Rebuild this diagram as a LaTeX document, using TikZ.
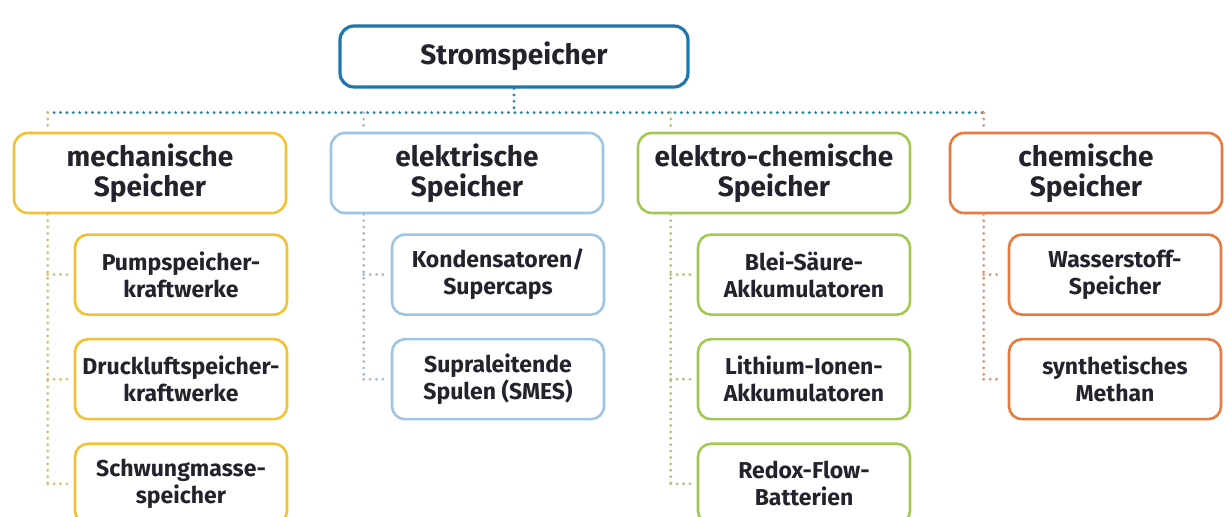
\documentclass[tikz,border=0pt]{standalone}
\usepackage{fontspec}
\setmainfont{Fira Sans}
\usetikzlibrary{positioning}

\definecolor{stromcol}{RGB}{30,118,172}
\definecolor{buscol}{RGB}{40,132,170}
\definecolor{mechcol}{RGB}{242,194,52}
\definecolor{elekcol}{RGB}{160,196,226}
\definecolor{eccol}{RGB}{162,202,82}
\definecolor{chemcol}{RGB}{232,122,62}
\definecolor{mechdot}{RGB}{214,190,122}
\definecolor{elekdot}{RGB}{172,186,202}
\definecolor{ecdot}{RGB}{182,192,120}
\definecolor{chemdot}{RGB}{218,150,120}
\definecolor{txt}{RGB}{35,35,45}

\begin{document}
\begin{tikzpicture}[x=0.5pt, y=-0.5pt]
    \useasboundingbox (0,0) rectangle (1226,517);
    \begin{scope}[
        topnode/.style={rectangle, rounded corners=7pt, draw=stromcol, line width=1.6pt, minimum width=174pt, minimum height=30.5pt, text=txt, font=\fontsize{14}{15}\selectfont\bfseries},
        mainnode/.style={rectangle, rounded corners=7pt, line width=1.3pt, minimum width=136pt, minimum height=40pt, inner xsep=2pt, align=center, text=txt, font=\fontsize{14}{15}\selectfont\bfseries},
        subnode/.style={rectangle, rounded corners=6.5pt, line width=1.3pt, minimum width=106pt, minimum height=40pt, inner xsep=1pt, align=center, text=txt, font=\fontsize{11.5}{13.5}\selectfont\bfseries},
        busline/.style={line width=1.6pt, line cap=round, dash pattern=on 0pt off 3.2pt},
        stub/.style={busline, shorten >=2.5pt}]
    \node [topnode] (strom) at (514,56.5) {Stromspeicher};
    % main branches
    \node [mainnode, draw=mechcol] (mech) at (150,173) {mechanische\\Speicher};
    \node [mainnode, draw=elekcol, right=21.2pt of mech] (elek) {elektrische\\Speicher};
    \node [mainnode, draw=eccol, right=16.2pt of elek] (echem) {elektro-chemische\\Speicher};
    \node [mainnode, draw=chemcol, right=18.7pt of echem] (chem) {chemische\\Speicher};
    % mechanische Speicher
    \node [subnode, draw=mechcol, below right=9.5pt and 30.5pt of mech.south west] (pump) {Pumpspeicher-\\kraftwerke};
    \node [subnode, draw=mechcol, below=11pt of pump] (druck) {Druckluftspeicher-\\kraftwerke};
    \node [subnode, draw=mechcol, below=11pt of druck] (schwung) {Schwungmasse-\\speicher};
    % elektrische Speicher
    \node [subnode, draw=elekcol, below right=9.5pt and 30.5pt of elek.south west] (kond) {Kondensatoren/\\Supercaps};
    \node [subnode, draw=elekcol, below=11pt of kond] (smes) {Supraleitende\\Spulen (SMES)};
    % elektro-chemische Speicher
    \node [subnode, draw=eccol, below right=9.5pt and 30pt of echem.south west] (blei) {Blei-Säure-\\Akkumulatoren};
    \node [subnode, draw=eccol, below=11pt of blei] (lith) {Lithium-Ionen-\\Akkumulatoren};
    \node [subnode, draw=eccol, below=11pt of lith] (redox) {Redox-Flow-\\Batterien};
    % chemische Speicher
    \node [subnode, draw=chemcol, below right=9.5pt and 29.5pt of chem.south west] (wasser) {Wasserstoff-\\Speicher};
    \node [subnode, draw=chemcol, below=11pt of wasser] (methan) {synthetisches\\Methan};

    \coordinate (hub) at ([yshift=-12pt]strom.south);
    \coordinate (mechx) at ([xshift=17.5pt]mech.north west);
    \coordinate (elekx) at ([xshift=17pt]elek.north west);
    \coordinate (echemx) at ([xshift=17pt]echem.north west);
    \coordinate (chemx) at ([xshift=17.5pt]chem.north west);

    % top bus
    \draw [busline, draw=buscol] (strom.south) -- (hub);
    \draw [busline, draw=buscol] (mechx |- hub) -- (chemx |- hub);
    \draw [busline, draw=mechdot] (mechx |- hub) -- (mechx);
    \draw [busline, draw=elekdot] (elekx |- hub) -- (elekx);
    \draw [busline, draw=ecdot] (echemx |- hub) -- (echemx);
    \draw [busline, draw=chemdot] (chemx |- hub) -- (chemx);

    % sub buses
    \draw [busline, draw=mechdot] (mechx |- mech.south) -- (mechx |- schwung.west);
    \draw [stub, draw=mechdot] (mechx |- pump.west) -- (pump.west);
    \draw [stub, draw=mechdot] (mechx |- druck.west) -- (druck.west);
    \draw [stub, draw=mechdot] (mechx |- schwung.west) -- (schwung.west);
    \draw [busline, draw=elekdot] (elekx |- elek.south) -- (elekx |- smes.west);
    \draw [stub, draw=elekdot] (elekx |- kond.west) -- (kond.west);
    \draw [stub, draw=elekdot] (elekx |- smes.west) -- (smes.west);
    \draw [busline, draw=ecdot] (echemx |- echem.south) -- (echemx |- redox.west);
    \draw [stub, draw=ecdot] (echemx |- blei.west) -- (blei.west);
    \draw [stub, draw=ecdot] (echemx |- lith.west) -- (lith.west);
    \draw [stub, draw=ecdot] (echemx |- redox.west) -- (redox.west);
    \draw [busline, draw=chemdot] (chemx |- chem.south) -- (chemx |- methan.west);
    \draw [stub, draw=chemdot] (chemx |- wasser.west) -- (wasser.west);
    \draw [stub, draw=chemdot] (chemx |- methan.west) -- (methan.west);
    \end{scope}
\end{tikzpicture}
\end{document}
